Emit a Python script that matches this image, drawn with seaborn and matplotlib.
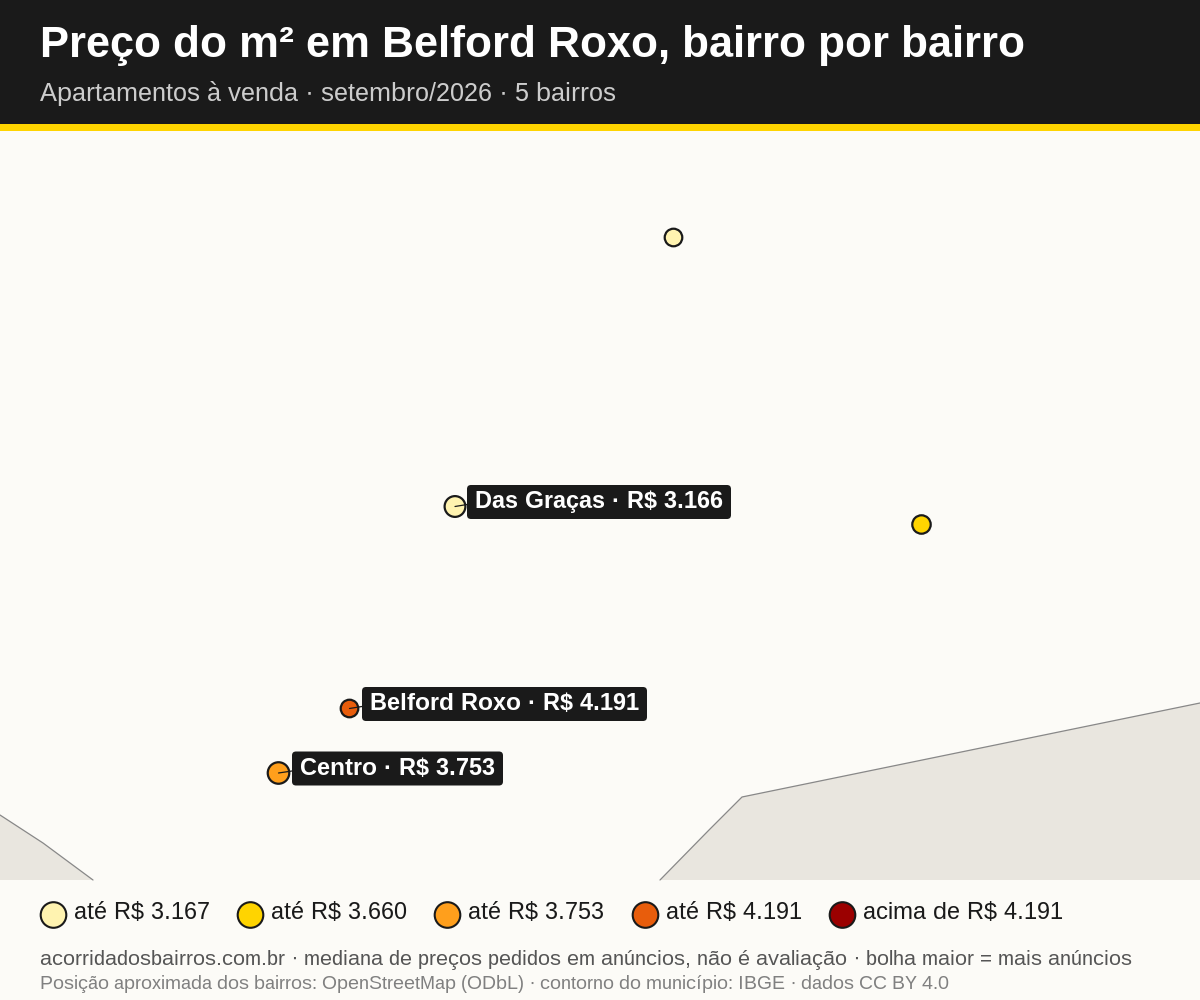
import matplotlib
matplotlib.use('Agg')
import matplotlib.pyplot as plt
import pandas as pd
import seaborn as sns
from matplotlib.patches import FancyBboxPatch, Polygon, Rectangle

# Map positions (pixels of the 1200x1000 figure)
bairros = ['Norte', 'Das Graças', 'Leste', 'Belford Roxo', 'Centro']
precos = [3100, 3166, 3660, 4191, 3753]
pos_x = [673.5, 455, 921.5, 349.5, 278.5]
pos_y = [237.5, 506.5, 524.5, 708.5, 773]
faixas = ['até R$ 3.167', 'até R$ 3.167', 'até R$ 3.660', 'até R$ 4.191', 'até R$ 3.753']
anuncios = [16, 20, 17, 16, 21]

rotulos = ['Das Graças · R$ 3.166', 'Belford Roxo · R$ 4.191', 'Centro · R$ 3.753']
rotulo_idx = [1, 3, 4]
rotulo_x = [475, 370, 300]

legenda_faixas = ['até R$ 3.167', 'até R$ 3.660', 'até R$ 3.753', 'até R$ 4.191', 'acima de R$ 4.191']
legenda_cores = ['#FFF3B0', '#FFD400', '#FF9F1C', '#E85D0C', '#9B0000']
legenda_x = [53.5, 250.5, 447.5, 645.5, 842.5]

contorno_dir_x = [660, 709, 742, 1200, 1200]
contorno_dir_y = [880, 830, 797, 703, 880]
contorno_esq_x = [0, 43, 93, 0]
contorno_esq_y = [815, 843, 880, 880]

FUNDO = '#FCFBF7'
ESCURO = '#1A1A1A'

sns.set_theme(style='white')
plt.rcParams['font.family'] = ['Liberation Sans', 'DejaVu Sans']
plt.rcParams['text.hinting'] = 'native'
plt.rcParams['text.hinting_factor'] = 1

fig = plt.figure(figsize=(12, 10), dpi=100, facecolor=FUNDO)
ax = fig.add_axes([0, 0, 1, 1])

# header
ax.add_patch(Rectangle((0, 0), 1200, 124, color=ESCURO, lw=0))
ax.add_patch(Rectangle((0, 124), 1200, 7, color='#FFD400', lw=0))
ax.text(40, 57, 'Preço do m² em Belford Roxo, bairro por bairro', color='#FFFFFF',
        fontsize=31.8, fontweight='bold', va='baseline')
ax.text(40, 101, 'Apartamentos à venda · setembro/2026 · 5 bairros', color='#CCCCCC',
        fontsize=18.8, va='baseline')

# municipality outline
ax.add_patch(Polygon(list(zip(contorno_dir_x, contorno_dir_y)), facecolor='#E9E6DF', lw=0))
ax.add_patch(Polygon(list(zip(contorno_esq_x, contorno_esq_y)), facecolor='#E9E6DF', lw=0))
ax.plot(contorno_dir_x[:4], contorno_dir_y[:4], color='#888888', lw=0.9)
ax.plot(contorno_esq_x[:3], contorno_esq_y[:3], color='#888888', lw=0.9)

df = pd.DataFrame({'bairro': bairros, 'preco': precos, 'x': pos_x, 'y': pos_y,
                   'faixa': faixas, 'anuncios': anuncios})
sns.scatterplot(data=df, x='x', y='y', hue='faixa', size='anuncios',
                palette=dict(zip(legenda_faixas, legenda_cores)), sizes=(160, 240),
                edgecolor=ESCURO, linewidth=1.6, legend=False, ax=ax, zorder=3)

# labels with leader lines
for texto, i, tx in zip(rotulos, rotulo_idx, rotulo_x):
    px, py = pos_x[i], pos_y[i]
    t = ax.text(tx, py + 1.5, texto, color='#FFFFFF', fontsize=17, fontweight='bold',
                va='baseline', ha='left', zorder=6)
    largura = t.get_window_extent(fig.canvas.get_renderer()).width
    caixa = FancyBboxPatch((tx - 5, py - 18.5), largura + 10, 28, mutation_aspect=1,
                           boxstyle='round,pad=3,rounding_size=4', fc=ESCURO, ec='none', zorder=5)
    ax.add_patch(caixa)
    ax.plot([px, tx - 8], [py, py - 2], color=ESCURO, lw=0.9, zorder=4)

# legend
legenda = pd.DataFrame({'x': legenda_x, 'y': [915] * 5, 'faixa': legenda_faixas})
sns.scatterplot(data=legenda, x='x', y='y', hue='faixa', palette=legenda_cores, s=340,
                edgecolor=ESCURO, linewidth=1.5, legend=False, ax=ax, zorder=3)
for x, faixa in zip(legenda_x, legenda_faixas):
    ax.text(x + 20.5, 919, faixa, color=ESCURO, fontsize=17.5, va='baseline')

# footer
ax.text(40, 965, 'acorridadosbairros.com.br · mediana de preços pedidos em anúncios, não é avaliação · bolha maior = mais anúncios',
        color='#555555', fontsize=15.25, va='baseline')
ax.text(40, 989, 'Posição aproximada dos bairros: OpenStreetMap (ODbL) · contorno do município: IBGE · dados CC BY 4.0',
        color='#808080', fontsize=13.6, va='baseline')

ax.set_xlim(0, 1200)
ax.set_ylim(1000, 0)
ax.axis('off')

fig.savefig('out.png', dpi=100, facecolor=FUNDO)
